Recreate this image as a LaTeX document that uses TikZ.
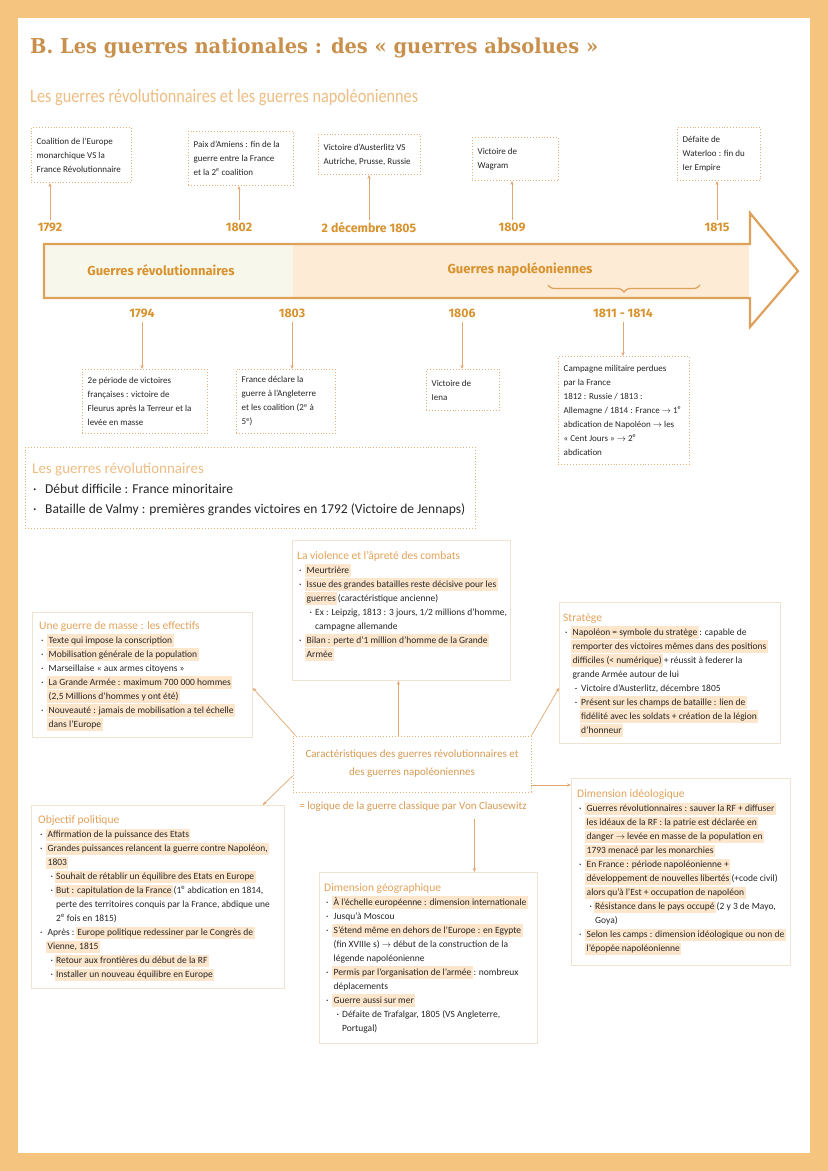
\documentclass[tikz,border=0pt]{standalone}
\usepackage{fontspec}
\usepackage{graphicx}
\setmainfont{Carlito}
\newfontfamily\titlefont{DejaVu Serif}
\newfontfamily\yearfont{Fira Sans}
\usetikzlibrary{arrows.meta,decorations.pathreplacing,calc}
\definecolor{pagec}{HTML}{F5C47F}
\definecolor{titlec}{HTML}{C8904C}
\definecolor{subc}{HTML}{EDBD82}
\definecolor{yearc}{HTML}{D8932F}
\definecolor{arrc}{HTML}{DDA15A}
\definecolor{dotc}{HTML}{E5B07A}
\definecolor{connc}{HTML}{E2A670}
\definecolor{cboxc}{HTML}{F1E3D1}
\definecolor{headc}{HTML}{E2A35C}
\definecolor{hlc}{HTML}{FDE6CB}
\definecolor{carc}{HTML}{D79A53}
\definecolor{txt}{HTML}{262626}
\definecolor{leftfill}{HTML}{F8F7EC}
\definecolor{rightfill}{HTML}{FDEBD5}
\newcommand\myhl[1]{\kern-1.5pt\relax{\fboxsep=0pt\colorbox{hlc}{\kern1.5pt\relax\rule[-3.5pt]{0pt}{12.5pt}#1\kern1.5pt\relax}}\kern-1.5pt\relax}
\newcommand\mybul{\makebox[9.5pt][l]{\hspace{2pt}·}}
\newcommand\myind{\hspace*{9.5pt}}
\newcommand\mysbul{\makebox[18pt][l]{\hspace{12.5pt}·}}
\newcommand\mysdash{\makebox[18pt][l]{\hspace{11.5pt}-}}
\newcommand\mysind{\hspace*{18pt}}
\newcommand\myhd[1]{\rule{0pt}{10pt}{\fontsize{11.5}{14}\selectfont\color{headc}#1}}
\newcommand\myar{$\rightarrow$}
\newcommand\mye{\textsuperscript{e}}
\tikzset{
  tlbox/.style={draw=dotc, dotted, line width=0.9pt, anchor=north west, inner sep=0pt},
  tltext/.style={anchor=west, inner sep=0pt, align=left, font=\fontsize{9}{14}\selectfont, text=txt},
  dotbox/.style={draw=dotc, dotted, line width=0.9pt, inner sep=0pt},
  cbox/.style={draw=cboxc, line width=0.7pt, anchor=north west, inner sep=0pt},
  bodytext/.style={anchor=north west, inner sep=0pt, align=left, font=\fontsize{9.5}{14}\selectfont, text=txt},
  conn/.style={draw=connc, line width=0.7pt, -{Stealth[length=4pt,width=3.2pt]}},
  yearlab/.style={font=\yearfont\bfseries\fontsize{12.3}{14}\selectfont, text=yearc, inner sep=2pt},
  tlab/.style={font=\yearfont\bfseries\fontsize{13}{15}\selectfont, text=yearc, inner sep=0pt},
}
\begin{document}
\begin{tikzpicture}[x=1pt,y=-1pt]
\useasboundingbox (0,0) rectangle (828,1171);
\fill[pagec] (0,0) rectangle (828,1171);
\fill[white] (18,18) rectangle (810,1153);

% titles
\node[anchor=base west, inner sep=0pt, text=titlec] (title) at (30,53)
  {\resizebox{568pt}{\height}{\titlefont\bfseries\fontsize{20.5}{22}\selectfont B. Les guerres nationales : des « guerres absolues »}};
\node[anchor=base west, inner sep=0pt, text=subc] (subtitle) at (30,102)
  {\resizebox{388pt}{\height}{\fontsize{19}{21}\selectfont Les guerres révolutionnaires et les guerres napoléoniennes}};

% timeline arrow
\fill[leftfill] (45,245) rectangle (293,297);
\fill[rightfill] (293,245) rectangle (749,297);
\draw[arrc, line width=2.2pt, line join=miter] (44,244) -- (750,244) -- (750,213) -- (798,271) -- (750,327) -- (750,298) -- (44,298) -- cycle;
\node[tlab] (grev) at (161,270) {Guerres révolutionnaires};
\node[tlab] (gnap) at (520,270) {Guerres napoléoniennes};
\draw[arrc, line width=1.2pt, decorate, decoration={brace, amplitude=7pt, mirror}] (548,285) -- (700,285);

% top boxes
\node[tlbox, minimum width=100pt, minimum height=55pt] (b1792) at (31,127) {};
\node[tltext] (t1792) at ($(b1792.west)+(5.5,0)$) {Coalition de l'Europe\\monarchique VS la\\France Révolutionnaire};
\node[tlbox, minimum width=105pt, minimum height=54pt] (b1802) at (188,131) {};
\node[tltext] (t1802) at ($(b1802.west)+(5.5,0)$) {Paix d'Amiens : fin de la\\guerre entre la France\\et la 2\mye{} coalition};
\node[tlbox, minimum width=102pt, minimum height=40pt] (b1805) at (318,134) {};
\node[tltext] (t1805) at ($(b1805.west)+(5.5,0)$) {Victoire d'Austerlitz VS\\Autriche, Prusse, Russie};
\node[tlbox, minimum width=86pt, minimum height=43pt] (b1809) at (472,137) {};
\node[tltext] (t1809) at ($(b1809.west)+(5.5,0)$) {Victoire de\\Wagram};
\node[tlbox, minimum width=83pt, minimum height=53pt] (b1815) at (677,127) {};
\node[tltext] (t1815) at ($(b1815.west)+(5.5,0)$) {Défaite de\\Waterloo : fin du\\Ier Empire};

\node[yearlab] (y1792) at (50,227) {1792};
\node[yearlab] (y1802) at (239,227) {1802};
\node[yearlab] (y1805) at (369,227) {2 décembre 1805};
\node[yearlab] (y1809) at (512,227) {1809};
\node[yearlab] (y1815) at (717,227) {1815};
\draw[conn] (y1792.north) -- (y1792.north |- b1792.south);
\draw[conn] (y1802.north) -- (y1802.north |- b1802.south);
\draw[conn] (y1805.north) -- (y1805.north |- b1805.south);
\draw[conn] (y1809.north) -- (y1809.north |- b1809.south);
\draw[conn] (y1815.north) -- (y1815.north |- b1815.south);

% bottom boxes
\node[yearlab] (y1794) at (142,313) {1794};
\node[yearlab] (y1803) at (292,313) {1803};
\node[yearlab] (y1806) at (462,313) {1806};
\node[yearlab] (y1811) at (623,313) {1811 - 1814};
\node[tlbox, minimum width=125pt, minimum height=64pt] (b1794) at (82,369) {};
\node[tltext] (t1794) at ($(b1794.west)+(5.5,0)$) {2e période de victoires\\françaises : victoire de\\Fleurus après la Terreur et la\\levée en masse};
\node[tlbox, minimum width=99pt, minimum height=64pt] (b1803) at (236,369) {};
\node[tltext] (t1803) at ($(b1803.west)+(5.5,0)$) {France déclare la\\guerre à l'Angleterre\\et les coalition (2\mye{} à\\5\mye)};
\node[tlbox, minimum width=73pt, minimum height=41pt] (b1806) at (426,369) {};
\node[tltext] (t1806) at ($(b1806.west)+(5.5,0)$) {Victoire de\\Iena};
\node[tlbox, minimum width=131pt, minimum height=108pt] (b1811) at (558,356) {};
\node[tltext] (t1811) at ($(b1811.west)+(5.5,0)$) {Campagne militaire perdues\\par la France\\1812 : Russie / 1813 :\\Allemagne / 1814 : France \myar{} 1\mye\\abdication de Napoléon \myar{} les\\« Cent Jours » \myar{} 2\mye\\abdication};
\draw[conn, shorten <=2pt] (y1794.south) -- (y1794.south |- b1794.north);
\draw[conn, shorten <=2pt] (y1803.south) -- (y1803.south |- b1803.north);
\draw[conn, shorten <=2pt] (y1806.south) -- (y1806.south |- b1806.north);
\draw[conn, shorten <=2pt] (y1811.south) -- (y1811.south |- b1811.north);

% revolutionary wars box
\node[dotbox, anchor=north west, minimum width=450pt, minimum height=81pt] (revbox) at (25,447) {};
\node[anchor=north west, inner sep=0pt, align=left, font=\fontsize{13.5}{20}\selectfont, text=txt] (revT) at (32,461)
  {\rule{0pt}{12pt}{\fontsize{15}{20}\selectfont\color{subc}Les guerres révolutionnaires}\\
   \makebox[13pt][l]{\hspace{1pt}·}Début difficile : France minoritaire\\
   \makebox[13pt][l]{\hspace{1pt}·}Bataille de Valmy : premières grandes victoires en 1792 (Victoire de Jennaps)};

% central box
\node[dotbox, minimum width=238pt, minimum height=56pt, align=center, text=carc, font=\fontsize{11}{18}\selectfont] (carac) at (412,764)
  {Caractéristiques des guerres révolutionnaires et\\des guerres napoléoniennes};
\node[text=carc, font=\fontsize{11}{13}\selectfont, inner sep=1pt] (clause) at (413,807) {= logique de la guerre classique par Von Clausewitz};

% content boxes
\node[cbox, minimum width=218pt, minimum height=140pt] (violence) at (292,540) {};
\node[bodytext] (violenceT) at (297,549)
  {\myhd{La violence et l'âpreté des combats}\\
   \mybul\myhl{Meurtrière}\\
   \mybul\myhl{Issue des grandes batailles reste décisive pour les}\\
   \myind\myhl{guerres} (caractéristique ancienne)\\
   \mysbul Ex : Leipzig, 1813 : 3 jours, 1/2 millions d'homme,\\
   \mysind campagne allemande\\
   \mybul\myhl{Bilan : perte d'1 million d'homme de la Grande}\\
   \myind\myhl{Armée}};

\node[cbox, minimum width=220pt, minimum height=125pt] (masse) at (32,612) {};
\node[bodytext] (masseT) at (39,619)
  {\myhd{Une guerre de masse : les effectifs}\\
   \mybul\myhl{Texte qui impose la conscription}\\
   \mybul\myhl{Mobilisation générale de la population}\\
   \mybul Marseillaise « aux armes citoyens »\\
   \mybul\myhl{La Grande Armée : maximum 700 000 hommes}\\
   \myind\myhl{(2,5 Millions d'hommes y ont été)}\\
   \mybul\myhl{Nouveauté : jamais de mobilisation a tel échelle}\\
   \myind\myhl{dans l'Europe}};

\node[cbox, minimum width=221pt, minimum height=141pt] (strat) at (559,602) {};
\node[bodytext] (stratT) at (563,611)
  {\myhd{Stratège}\\
   \mybul\myhl{Napoléon = symbole du stratège} : capable de\\
   \myind\myhl{remporter des victoires mêmes dans des positions}\\
   \myind\myhl{difficiles (< numérique)} + réussit à federer la\\
   \myind grande Armée autour de lui\\
   \mysdash Victoire d'Austerlitz, décembre 1805\\
   \mysdash\myhl{Présent sur les champs de bataille : lien de}\\
   \mysind\myhl{fidélité avec les soldats + création de la légion}\\
   \mysind\myhl{d'honneur}};

\node[cbox, minimum width=253pt, minimum height=183pt] (objectif) at (31,805) {};
\node[bodytext] (objectifT) at (38,813.5)
  {\myhd{Objectif politique}\\
   \mybul\myhl{Affirmation de la puissance des Etats}\\
   \mybul\myhl{Grandes puissances relancent la guerre contre Napoléon,}\\
   \myind\myhl{1803}\\
   \mysbul\myhl{Souhait de rétablir un équilibre des Etats en Europe}\\
   \mysbul\myhl{But : capitulation de la France} (1\mye{} abdication en 1814,\\
   \mysind perte des territoires conquis par la France, abdique une\\
   \mysind 2\mye{} fois en 1815)\\
   \mybul Après : \myhl{Europe politique redessiner par le Congrès de}\\
   \myind\myhl{Vienne, 1815}\\
   \mysbul\myhl{Retour aux frontières du début de la RF}\\
   \mysbul\myhl{Installer un nouveau équilibre en Europe}};

\node[cbox, minimum width=218pt, minimum height=171pt] (geo) at (319,872) {};
\node[bodytext] (geoT) at (324,881)
  {\myhd{Dimension géographique}\\
   \mybul\myhl{À l'échelle européenne : dimension internationale}\\
   \mybul Jusqu'à Moscou\\
   \mybul\myhl{S'étend même en dehors de l'Europe : en Egypte}\\
   \myind (fin XVIIIe s) \myar{} début de la construction de la\\
   \myind légende napoléonienne\\
   \mybul\myhl{Permis par l'organisation de l'armée} : nombreux\\
   \myind déplacements\\
   \mybul\myhl{Guerre aussi sur mer}\\
   \mysbul Défaite de Trafalgar, 1805 (VS Angleterre,\\
   \mysind Portugal)};

\node[cbox, minimum width=219pt, minimum height=187pt] (ideo) at (571,778) {};
\node[bodytext] (ideoT) at (577,787.5)
  {\myhd{Dimension idéologique}\\
   \mybul\myhl{Guerres révolutionnaires : sauver la RF + diffuser}\\
   \myind\myhl{les idéaux de la RF : la patrie est déclarée en}\\
   \myind\myhl{danger \myar{} levée en masse de la population en}\\
   \myind\myhl{1793 menacé par les monarchies}\\
   \mybul\myhl{En France : période napoléonienne +}\\
   \myind\myhl{développement de nouvelles libertés} (+code civil)\\
   \myind\myhl{alors qu'à l'Est + occupation de napoléon}\\
   \mysbul\myhl{Résistance dans le pays occupé} (2 y 3 de Mayo,\\
   \mysind Goya)\\
   \mybul\myhl{Selon les camps : dimension idéologique ou non de}\\
   \myind\myhl{l'épopée napoléonienne}};

% connectors from central box
\coordinate (vio) at ($(violence.south)+(-3,0)$);
\draw[conn] (carac.north -| vio) -- (vio);
\draw[conn] ($(carac.north west)+(3,0)$) -- ($(masse.east)+(0,13)$);
\draw[conn] (carac.north east) -- ($(strat.west)+(0,15)$);
\draw[conn] ($(carac.west)+(0,12)$) -- ($(objectif.north east)+(-22,0)$);
\draw[conn] ($(carac.east)+(0,21)$) -- ($(ideo.north west)+(0,7)$);
\coordinate (geox) at ($(geo.north)+(46,0)$);
\draw[conn] (clause.south -| geox) ++(0,6) -- (geox);
\end{tikzpicture}
\end{document}
